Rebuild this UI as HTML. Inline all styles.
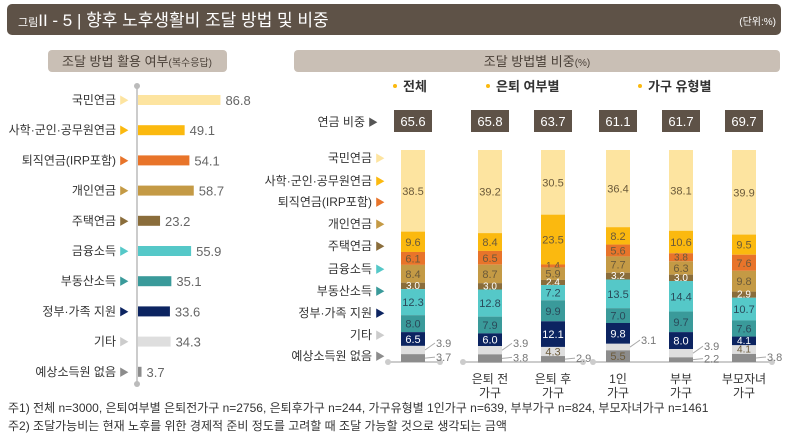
<!DOCTYPE html>
<html><head><meta charset="utf-8">
<style>
body{margin:0;width:788px;height:442px;background:#fff;overflow:hidden;font-family:"Liberation Sans","Noto Sans CJK KR",sans-serif;}
svg text{font-family:"Liberation Sans","Noto Sans CJK KR",sans-serif;}
</style></head>
<body>
<svg id="c" width="788" height="442" xmlns="http://www.w3.org/2000/svg">
<rect x="7" y="4" width="774" height="31" rx="5" fill="#5e5247"/>
<text x="18" y="26" fill="#fff" font-size="17"><tspan font-size="11">그림</tspan>II - 5 | 향후 노후생활비 조달 방법 및 비중</text>
<text x="776" y="25" fill="#fff" font-size="10" text-anchor="end">(단위:%)</text>
<rect x="48" y="50" width="179" height="22" rx="4" fill="#c9bfb5"/>
<text x="137" y="66" fill="#4a4038" font-size="13" text-anchor="middle">조달 방법 활용 여부<tspan font-size="10">(복수응답)</tspan></text>
<rect x="294" y="50" width="486" height="22" rx="4" fill="#c9bfb5"/>
<text x="537" y="66" fill="#4a4038" font-size="13" text-anchor="middle">조달 방법별 비중<tspan font-size="10">(%)</tspan></text>
<g id="left"></g><g id="right"></g>
<text x="8" y="412" fill="#333" font-size="12">주1) 전체 n=3000, 은퇴여부별 은퇴전가구 n=2756, 은퇴후가구 n=244, 가구유형별 1인가구 n=639, 부부가구 n=824, 부모자녀가구 n=1461</text>
<text x="8" y="430" fill="#333" font-size="12">주2) 조달가능비는 현재 노후를 위한 경제적 준비 정도를 고려할 때 조달 가능할 것으로 생각되는 금액</text>
</svg>
<script>
const categories=["국민연금","사학·군인·공무원연금","퇴직연금(IRP포함)","개인연금","주택연금","금융소득","부동산소득","정부·가족 지원","기타","예상소득원 없음"];
const colors=["#fde4a0","#fbb90f","#e8742a","#c49a45","#8a6d3b","#55c8c8","#3a9a9a","#0c2461","#dedede","#8c8c8c"];
const usage=[86.8,49.1,54.1,58.7,23.2,55.9,35.1,33.6,34.3,3.7];
const groups=["전체","은퇴 전 가구","은퇴 후 가구","1인 가구","부부 가구","부모자녀 가구"];
const pension=[65.6,65.8,63.7,61.1,61.7,69.7];
const share=[
[38.5,9.6,6.1,8.4,3.0,12.3,8.0,6.5,3.9,3.7],
[39.2,8.4,6.5,8.7,3.0,12.8,7.9,6.0,3.9,3.8],
[30.5,23.5,1.4,5.9,2.4,7.2,9.9,12.1,4.3,2.9],
[36.4,8.2,5.6,7.7,3.2,13.5,7.0,9.8,3.1,5.5],
[38.1,10.6,3.8,6.3,3.0,14.4,9.7,8.0,3.9,2.2],
[39.9,9.5,7.6,9.8,2.9,10.7,7.6,4.1,4.1,3.8]];
const NS="http://www.w3.org/2000/svg";
function mk(p,t,a,txt){const e=document.createElementNS(NS,t);for(const k in a)e.setAttribute(k,a[k]);if(txt!=null)e.textContent=txt;p.appendChild(e);return e;}
const Lg=document.getElementById('left'),Rg=document.getElementById('right');
const lx0=137,lk=0.95,lyf=i=>100+i*30.2;
let ax=mk(Lg,'line',{x1:lx0,y1:86,x2:lx0,y2:384,stroke:'#ccc','stroke-width':2});


mk(Lg,'circle',{cx:lx0,cy:86,r:3,fill:'#bbb'});mk(Lg,'circle',{cx:lx0,cy:384,r:3,fill:'#bbb'});
categories.forEach((c,i)=>{const y=lyf(i);
 let t=mk(Lg,'text',{x:116,y:y+4,'font-size':12,fill:'#333','text-anchor':'end'},c);
 
 
 mk(Lg,'text',{x:119,y:y+4,'font-size':10,fill:colors[i]==="#dedede"?"#ccc":colors[i]},'▶');
 let b=mk(Lg,'rect',{x:lx0+1,y:y-5,width:usage[i]*lk,height:10,fill:colors[i]});
 
 
 let v=mk(Lg,'text',{x:lx0+usage[i]*lk+6,y:y+5,'font-size':13,fill:'#666'},usage[i].toFixed(1));
 
 
});
const cx=[413,490,553,618,681,744],bw=24,ytop=150,base=362,H=(base-ytop)/100;
const ry=[158,181,202,224,246,269,291,313,335,356];
categories.forEach((c,i)=>{
 let t=mk(Rg,'text',{x:372,y:ry[i]+4,'font-size':12,fill:'#333','text-anchor':'end'},c);
 
 
 mk(Rg,'text',{x:375,y:ry[i]+4,'font-size':10,fill:colors[i]==="#dedede"?"#ccc":colors[i]},'▶');
});
let lg=[[395,'전체'],[488,'은퇴 여부별'],[640,'가구 유형별']];
lg.forEach(l=>{mk(Rg,'circle',{cx:l[0],cy:86,r:2,fill:'#fbb90f'});let t=mk(Rg,'text',{x:l[0]+8,y:91,'font-size':13,'font-weight':'bold',fill:'#333'},l[1]);
 
 });
let pl=mk(Rg,'text',{x:365,y:126,'font-size':12,fill:'#333','text-anchor':'end'},'연금 비중');


mk(Rg,'text',{x:368,y:126,'font-size':10,fill:'#555'},'▶');
[[388,440],[463,583],[593,772]].forEach(s=>{mk(Rg,'line',{x1:s[0],y1:base,x2:s[1],y2:base,stroke:'#ccc','stroke-width':2});mk(Rg,'circle',{cx:s[0],cy:base,r:3,fill:'#ccc'});mk(Rg,'circle',{cx:s[1],cy:base,r:3,fill:'#ccc'});});
const dark=[false,false,false,false,true,false,false,true,false,false];
share.forEach((col,g)=>{
 const x=cx[g]-bw/2;
 let pb=mk(Rg,'rect',{x:cx[g]-19,y:110,width:38,height:22,fill:'#5e5247'});
 
 
 mk(Rg,'text',{x:cx[g],y:126,'font-size':13,fill:'#fff','text-anchor':'middle'},pension[g].toFixed(1));
 let y=ytop;
 col.forEach((v,i)=>{const h=v*H;
  let r=mk(Rg,'rect',{x:x,y:y,width:bw,height:h,fill:colors[i]});
  
  
  const mid=y+h/2;
  const inside = i<8 || v>=4;
  if(inside){mk(Rg,'text',{x:cx[g],y:mid+(h<9?3:4),'font-size':h<9?10:11,fill:(dark[i])?'#fff':(i>=5&&i<=6?'#2a4a5a':'#6b5a3a'),'text-anchor':'middle'},v.toFixed(1));}
  else{const ly2=i===9?mid+2:mid-4;mk(Rg,'line',{x1:x+bw,y1:mid,x2:x+bw+10,y2:ly2-3,stroke:'#aaa'});mk(Rg,'text',{x:x+bw+11,y:ly2+1,'font-size':11,fill:'#777'},v.toFixed(1));}
  y+=h;});
 if(g>0){const p=groups[g].split(' ');const a=p.pop();
  mk(Rg,'text',{x:cx[g],y:383,'font-size':12,fill:'#333','text-anchor':'middle'},p.join(' '));
  let xl=mk(Rg,'text',{x:cx[g],y:397,'font-size':12,fill:'#333','text-anchor':'middle'},a);
  
  }
});
</script>
</body></html>
